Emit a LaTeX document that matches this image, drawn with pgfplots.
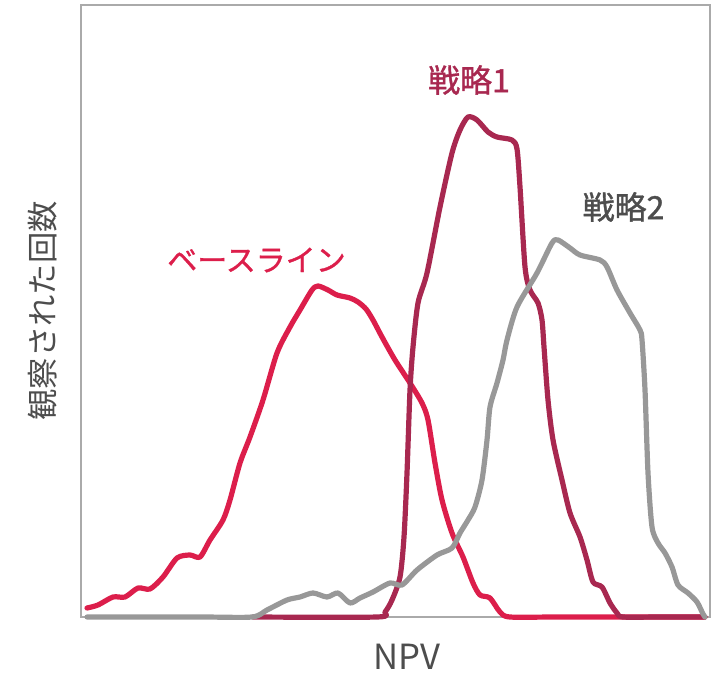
\documentclass[border=0pt]{standalone}
\usepackage{pgfplots}
\pgfplotsset{compat=1.18}
\usepackage{fontspec}
\setmainfont{Noto Sans CJK JP}
\newfontfamily\jpheavy[FakeBold=1.2]{Noto Sans CJK JP}

\definecolor{baseC}{RGB}{220,30,75}
\definecolor{stratA}{RGB}{168,40,80}
\definecolor{stratB}{RGB}{152,152,152}
\definecolor{txt}{RGB}{77,77,77}
\definecolor{frame}{RGB}{170,170,170}

% NPV distributions: x position, observed count (arbitrary units)
\pgfplotstableread{
x h
87 9
98 12
113 20
125 20
138 29
150 28
163 40
177 59
190 62
200 60
210 77
223 97
230 117
240 154
250 180
263 217
277 264
290 290
300 307
312 327
318 331
328 327
337 322
350 319
358 315
366 308
373 297
382 280
395 257
410 234
422 214
428 197
435 154
442 117
452 84
463 60
473 34
480 22
490 19
500 5
510 0
560 0
705 0
}\baseline

\pgfplotstableread{
x h
253 0
377 0
385 5
392 17
400 40
404 80
407 144
410 227
413 270
418 314
427 344
440 410
452 464
460 487
468 500
477 497
488 485
497 480
512 477
517 468
520 430
525 350
530 327
538 314
542 297
544 270
548 217
553 177
562 137
570 104
580 80
587 57
593 35
602 30
610 14
617 4
623 0
660 0
705 0
}\stratone

\pgfplotstableread{
x h
87 0
200 0
252 0
267 7
287 17
300 20
313 24
327 20
338 24
350 14
360 19
373 25
390 34
402 32
417 47
437 62
452 69
460 84
468 97
475 110
482 137
487 177
490 210
497 234
503 257
507 277
517 310
537 344
552 374
558 377
570 369
580 362
600 357
607 350
617 327
630 304
640 287
642 277
645 227
648 144
652 90
658 74
665 64
672 50
678 32
688 24
697 15
703 3
705 0
}\strattwo

\begin{document}
\begin{tikzpicture}
\begin{axis}[
  scale only axis,
  width=471.75pt, height=459pt,
  xmin=81, xmax=710, ymin=0, ymax=612,
  xtick=\empty, ytick=\empty,
  axis line style={draw=frame, line width=0.9pt},
  clip=false,
]
\addplot[baseC, line width=3.9pt, line join=round, line cap=round, smooth, tension=0.45] table[x=x,y=h] {\baseline};
\addplot[stratA, line width=3.9pt, line join=round, line cap=round, smooth, tension=0.45] table[x=x,y=h] {\stratone};
\addplot[stratB, line width=3.9pt, line join=round, line cap=round, smooth, tension=0.45] table[x=x,y=h] {\strattwo};

\node[baseC, font=\jpheavy\fontsize{22.5}{26}\selectfont] at (axis cs:256.5,357) {ベースライン};
\node[stratA, font=\jpheavy\fontsize{24}{28}\selectfont] at (axis cs:469,537) {戦略1};
\node[txt, font=\jpheavy\fontsize{24}{28}\selectfont] at (axis cs:623.5,410) {戦略2};
\node[txt, font=\fontsize{26}{30}\selectfont] at (axis cs:407,-40) {NPV};
\node[txt, rotate=90, font=\fontsize{23.5}{28}\selectfont] at (axis cs:43,306) {観察された回数};

\coordinate (bbll) at (axis cs:0,-57);
\coordinate (bbur) at (axis cs:723,617);
\end{axis}
\pgfresetboundingbox
\useasboundingbox (bbll) rectangle (bbur);
\end{tikzpicture}
\end{document}
